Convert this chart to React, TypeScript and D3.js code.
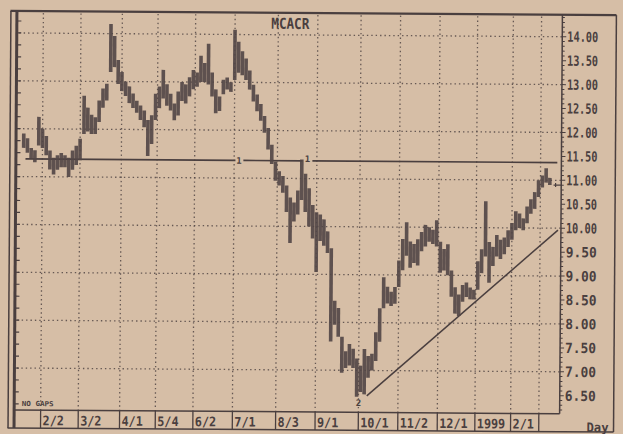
import React from 'react';
import * as d3 from 'd3';

const W = 623;
const H = 434;
const PAPER = '#d6bea6';
const INK = '#4a3f3f';

// bars: one every 2 trading days, starting at day -10 (day 0 = 2/2)
const barStart = -10;
const barStep = 2;
const barHigh = [
  11.9, 11.8, 11.6, 11.55, 12.25, 12.0, 11.85, 11.55, 11.4, 11.45,
  11.5, 11.45, 11.4, 11.55, 11.65, 11.8, 12.7, 12.45, 12.3, 12.25,
  12.6, 12.85, 12.95, 14.2, 13.95, 13.45, 13.2, 13.0, 12.9, 12.75,
  12.6, 12.5, 12.4, 12.2, 12.3, 12.75, 12.9, 13.25, 12.95, 12.75,
  12.55, 12.8, 13.0, 12.95, 13.1, 13.25, 13.2, 13.55, 13.4, 13.8,
  13.2, 12.85, 12.7, 13.05, 13.1, 13.0, 14.1, 13.85, 13.65, 13.5,
  13.25, 12.95, 12.75, 12.55, 12.3, 12.05, 11.7, 11.35, 11.15, 11.05,
  10.85, 10.6, 10.5, 10.75, 11.4, 11.1, 10.8, 10.45, 10.3, 10.25,
  10.15, 9.9, 9.55, 8.45, 8.3, 7.7, 7.4, 7.55, 7.45, 7.25,
  7.1, 7.45, 7.3, 7.35, 7.8, 8.3, 8.95, 8.75, 8.65, 8.75,
  9.3, 9.75, 10.1, 9.7, 9.65, 9.75, 9.9, 10.05, 10.0, 9.95,
  10.15, 9.7, 9.55, 9.65, 9.1, 8.75, 8.6, 8.8, 8.85, 8.75,
  8.7, 9.3, 9.55, 10.55, 9.7, 9.6, 9.85, 9.75, 9.8, 9.95,
  10.1, 10.35, 10.3, 10.2, 10.45, 10.6, 10.75, 11.0, 11.1, 11.25,
  11.05,
];
const barLow = [
  11.6, 11.5, 11.38, 11.3, 11.65, 11.6, 11.45, 11.15, 11.05, 11.15,
  11.2, 11.2, 11.0, 11.15, 11.25, 11.35, 11.9, 11.95, 11.9, 11.9,
  12.15, 12.45, 12.6, 13.2, 13.3, 12.95, 12.8, 12.7, 12.55, 12.45,
  12.35, 12.2, 12.05, 11.45, 11.7, 12.2, 12.45, 12.65, 12.5, 12.4,
  12.2, 12.3, 12.6, 12.55, 12.7, 12.85, 12.9, 13.0, 13.0, 12.95,
  12.7, 12.35, 12.4, 12.75, 12.85, 12.8, 13.05, 13.2, 13.15, 13.05,
  12.85, 12.6, 12.4, 12.2, 11.95, 11.6, 11.3, 10.95, 10.85, 10.7,
  10.3, 9.65, 10.1, 10.25, 10.55, 10.3, 10.0, 9.75, 9.05, 9.7,
  9.6, 9.45, 7.6, 7.95, 7.7, 6.95, 7.05, 7.1, 7.05, 6.45,
  6.55, 6.5, 6.85, 7.0, 7.2, 7.6, 8.3, 8.4, 8.35, 8.4,
  8.75, 9.1, 9.4, 9.15, 9.25, 9.2, 9.5, 9.6, 9.7, 9.65,
  9.6, 9.05, 9.1, 9.0, 8.55, 8.2, 8.15, 8.45, 8.55, 8.5,
  8.5, 8.7, 9.05, 9.4, 8.85, 9.2, 9.4, 9.35, 9.45, 9.6,
  9.75, 9.95, 10.0, 9.95, 10.1, 10.3, 10.4, 10.65, 10.85, 10.95,
  10.9,
];

const monthDays = [0, 20, 42, 61, 81, 102, 125, 146, 169, 190, 211, 231, 250, 265];
const monthLabels = ['2/2', '3/2', '4/1', '5/4', '6/2', '7/1', '8/3', '9/1', '10/1', '11/2', '12/1', '1999', '2/1', ''];
const priceLabels = [14, 13.5, 13, 12.5, 12, 11.5, 11, 10.5, 10, 9.5, 9, 8.5, 8, 7.5, 7, 6.5];
const gridPrices = [14, 13, 12, 11, 10, 9, 8, 7];

// drawn lines on the chart
const resistancePrice = 11.37;
const resistanceSegments = [[-9, 102.7], [106.9, 138.3], [143.6, 273.9]];
const supportLine = [{ day: 173.4, price: 6.47 }, { day: 274.5, price: 9.96 }];
const lineMarkers = [{ day: 104.6, price: 11.37, text: '1' }, { day: 141, price: 11.42, text: '1' }, { day: 169, price: 6.33, text: '2' }];
const lastClose = { day: 272, price: 10.9 };

const PL = 16, PR = 561, PT = 13, PB = 412;

export default function App() {
  const x = d3.scaleLinear().domain([0, 250]).range([42, 512]);
  const y = d3.scaleLinear().domain([6.5, 14]).range([394, 35]);

  const leftTicks = d3.range(6.25, 14.5, 0.25);
  const rightTicks = d3.range(6.2, 14.45, 0.1);
  const mono = '"DejaVu Sans Mono", monospace';

  const trend = d3.line<{ day: number; price: number }>().x(d => x(d.day)).y(d => y(d.price));

  return (
    <svg width={W} height={H} style={{ position: 'absolute', left: 0, top: 0, background: PAPER }}>
      <rect x={0} y={0} width={W} height={H} fill={PAPER} />
      <g transform="rotate(0.4 311 217)">
        {/* grid */}
        {gridPrices.map(p => (
          <line key={'h' + p} x1={PL + 2} x2={PR} y1={y(p)} y2={y(p)} stroke={INK} strokeWidth={1.3} strokeDasharray="1.4 3" opacity={0.8} />
        ))}
        {monthDays.map(d => (
          <line key={'v' + d} x1={x(d)} x2={x(d)} y1={PT + 2} y2={PB} stroke={INK} strokeWidth={1.3} strokeDasharray="1.4 3" opacity={0.8} />
        ))}

        {/* frame */}
        <line x1={9} x2={615} y1={PT} y2={PT} stroke={INK} strokeWidth={2.2} />
        <line x1={9.5} x2={9.5} y1={PT} y2={430} stroke={INK} strokeWidth={1.5} />
        <line x1={15.5} x2={15.5} y1={PT} y2={430} stroke={INK} strokeWidth={3} />
        <line x1={615} x2={615} y1={PT} y2={430} stroke={INK} strokeWidth={1.5} />
        <line x1={PR} x2={PR} y1={PT} y2={PB} stroke={INK} strokeWidth={1.5} />
        <line x1={15} x2={PR} y1={PB} y2={PB} stroke={INK} strokeWidth={1.5} />
        <line x1={9} x2={615} y1={430} y2={430} stroke={INK} strokeWidth={1.5} />

        {leftTicks.map(p => (
          <line key={'lt' + p} x1={16} x2={20} y1={y(p)} y2={y(p)} stroke={INK} strokeWidth={1.2} />
        ))}
        {rightTicks.map(p => {
          const major = Math.abs(p * 2 - Math.round(p * 2)) < 0.01;
          return <line key={'rt' + p} x1={PR} x2={PR + (major ? 4 : 2.5)} y1={y(p)} y2={y(p)} stroke={INK} strokeWidth={1} />;
        })}
        {priceLabels.map(p => (
          <text key={'pl' + p} x={566} y={y(p) + 5} fontFamily={mono} fontWeight="bold" fontSize={14} fill={INK} textLength={31} lengthAdjust="spacingAndGlyphs">
            {p.toFixed(2)}
          </text>
        ))}

        {/* month row */}
        {monthDays.map((d, i) => (
          <g key={'m' + d}>
            <line x1={x(d)} x2={x(d)} y1={PB} y2={430} stroke={INK} strokeWidth={1.3} />
            {monthLabels[i] && (
              <text x={x(d) + 2} y={427} fontFamily={mono} fontWeight="bold" fontSize={13} fill={INK} textLength={monthLabels[i].length * 7.1} lengthAdjust="spacingAndGlyphs">
                {monthLabels[i]}
              </text>
            )}
          </g>
        ))}
        <text x={588} y={430} fontFamily={mono} fontWeight="bold" fontSize={13} fill={INK} textLength={22} lengthAdjust="spacingAndGlyphs">Day</text>
        <text x={23} y={408} fontFamily={mono} fontWeight="bold" fontSize={7} fill={INK} textLength={32} lengthAdjust="spacingAndGlyphs">NO GAPS</text>
        <text x={270} y={29} fontFamily={mono} fontWeight="bold" fontSize={15} fill={INK} textLength={38} lengthAdjust="spacingAndGlyphs">MCACR</text>

        {/* drawn lines */}
        {resistanceSegments.map(([a, b]) => (
          <line key={'r' + a} x1={x(a)} x2={x(b)} y1={y(resistancePrice)} y2={y(resistancePrice)} stroke={INK} strokeWidth={1.6} />
        ))}
        <path d={trend(supportLine) || ''} fill="none" stroke={INK} strokeWidth={1.5} />
        {lineMarkers.map((m, i) => (
          <text key={'mk' + i} x={x(m.day)} y={y(m.price) + 3.5} textAnchor="middle" fontFamily={mono} fontWeight="bold" fontSize={9} fill={INK}>{m.text}</text>
        ))}
        <line x1={x(lastClose.day)} x2={x(lastClose.day) + 8} y1={y(lastClose.price)} y2={y(lastClose.price)} stroke={INK} strokeWidth={1.2} />
        <line x1={x(lastClose.day) + 2} x2={x(lastClose.day) + 2} y1={y(lastClose.price) - 2} y2={y(lastClose.price) + 2} stroke={INK} strokeWidth={1.2} />

        {/* price bars */}
        {barHigh.map((h, i) => {
          const d = barStart + i * barStep;
          return <line key={'b' + i} x1={x(d)} x2={x(d)} y1={y(h)} y2={y(barLow[i])} stroke="#524646" strokeWidth={3.6} opacity={0.9} />;
        })}
      </g>
    </svg>
  );
}
